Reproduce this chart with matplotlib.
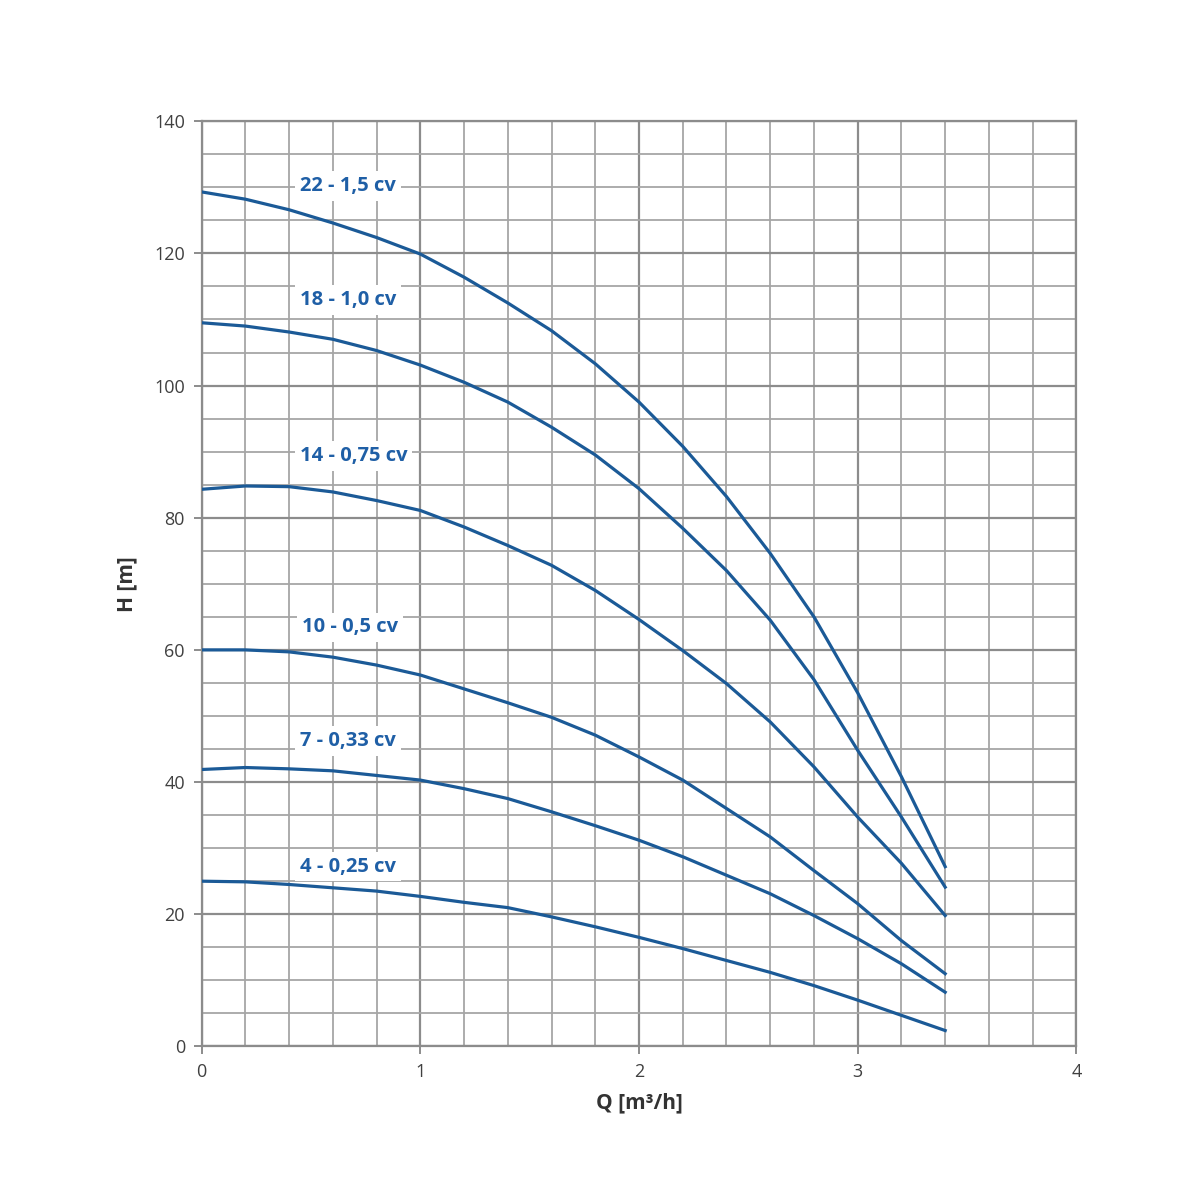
import matplotlib.pyplot as plt
import numpy as np

# --- data ------------------------------------------------------------------
q = [0.0, 0.2, 0.4, 0.6, 0.8, 1.0, 1.2, 1.4, 1.6, 1.8,
     2.0, 2.2, 2.4, 2.6, 2.8, 3.0, 3.2, 3.4]

h_22 = [129.3, 128.2, 126.6, 124.6, 122.4, 119.9, 116.4, 112.5, 108.3, 103.3,
        97.5, 90.8, 83.2, 74.6, 65.0, 53.5, 40.8, 27.2]
h_18 = [109.5, 109.0, 108.1, 107.0, 105.3, 103.1, 100.5, 97.5, 93.7, 89.5,
        84.4, 78.4, 72.0, 64.5, 55.5, 44.8, 34.7, 24.1]
h_14 = [84.3, 84.8, 84.7, 83.9, 82.6, 81.1, 78.6, 75.8, 72.8, 69.0,
        64.6, 59.9, 54.9, 49.1, 42.3, 34.7, 27.7, 19.8]
h_10 = [60.0, 60.0, 59.7, 58.9, 57.7, 56.2, 54.1, 52.0, 49.8, 47.1,
        43.8, 40.3, 36.0, 31.7, 26.6, 21.6, 16.0, 11.0]
h_7 = [41.9, 42.2, 42.0, 41.7, 41.0, 40.3, 39.0, 37.5, 35.5, 33.4,
       31.2, 28.7, 25.9, 23.1, 19.8, 16.3, 12.5, 8.2]
h_4 = [25.0, 24.9, 24.5, 24.0, 23.5, 22.7, 21.8, 21.0, 19.6, 18.1,
       16.5, 14.8, 13.0, 11.2, 9.2, 7.0, 4.7, 2.4]

labels = ["22 - 1,5 cv", "18 - 1,0 cv", "14 - 0,75 cv",
          "10 - 0,5 cv", "7 - 0,33 cv", "4 - 0,25 cv"]
label_x = [0.67, 0.67, 0.695, 0.68, 0.67, 0.67]
label_y = [130.2, 112.9, 89.3, 63.4, 46.2, 27.2]

curves = [h_22, h_18, h_14, h_10, h_7, h_4]

# --- plot ------------------------------------------------------------------
plt.rcParams['font.family'] = ['Open Sans', 'DejaVu Sans']

fig = plt.figure(figsize=(12, 12), dpi=100)
ax = fig.add_axes([0.168, 0.128, 0.729, 0.771])

line_color = "#1b5a97"
text_color = "#1f5fa6"

for h in curves:
    ax.plot(q, h, color=line_color, lw=2.3, solid_joinstyle='round', zorder=3)

for txt, lx, ly in zip(labels, label_x, label_y):
    ax.text(lx, ly, txt, color=text_color, fontsize=14.5, fontweight='bold',
            ha='center', va='center', zorder=4,
            bbox=dict(facecolor='white', edgecolor='none', pad=3.5))

ax.set_xlim(0, 4)
ax.set_ylim(0, 140)
ax.set_xticks(np.arange(0, 5, 1))
ax.set_yticks(np.arange(0, 160, 20))
ax.set_xticks(np.arange(0, 4.01, 0.2), minor=True)
ax.set_yticks(np.arange(0, 141, 5), minor=True)

ax.grid(which='major', color='#8c8c8c', lw=1.6, zorder=1)
ax.grid(which='minor', color='#a6a6a6', lw=1.3, zorder=1)
ax.set_axisbelow(True)

for s in ax.spines.values():
    s.set_color('#8c8c8c')
    s.set_linewidth(1.6)

ax.tick_params(which='major', direction='out', length=6, width=1.4,
               color='#8c8c8c', labelsize=13, labelcolor='#404040', pad=6)
ax.tick_params(which='minor', length=0)

ax.set_xlabel("Q [m³/h]", fontsize=15, fontweight='bold', color='#333333', labelpad=8)
ax.set_ylabel("H [m]", fontsize=15, fontweight='bold', color='#333333', labelpad=12)

fig.savefig("out.png", dpi=100, facecolor='white')
